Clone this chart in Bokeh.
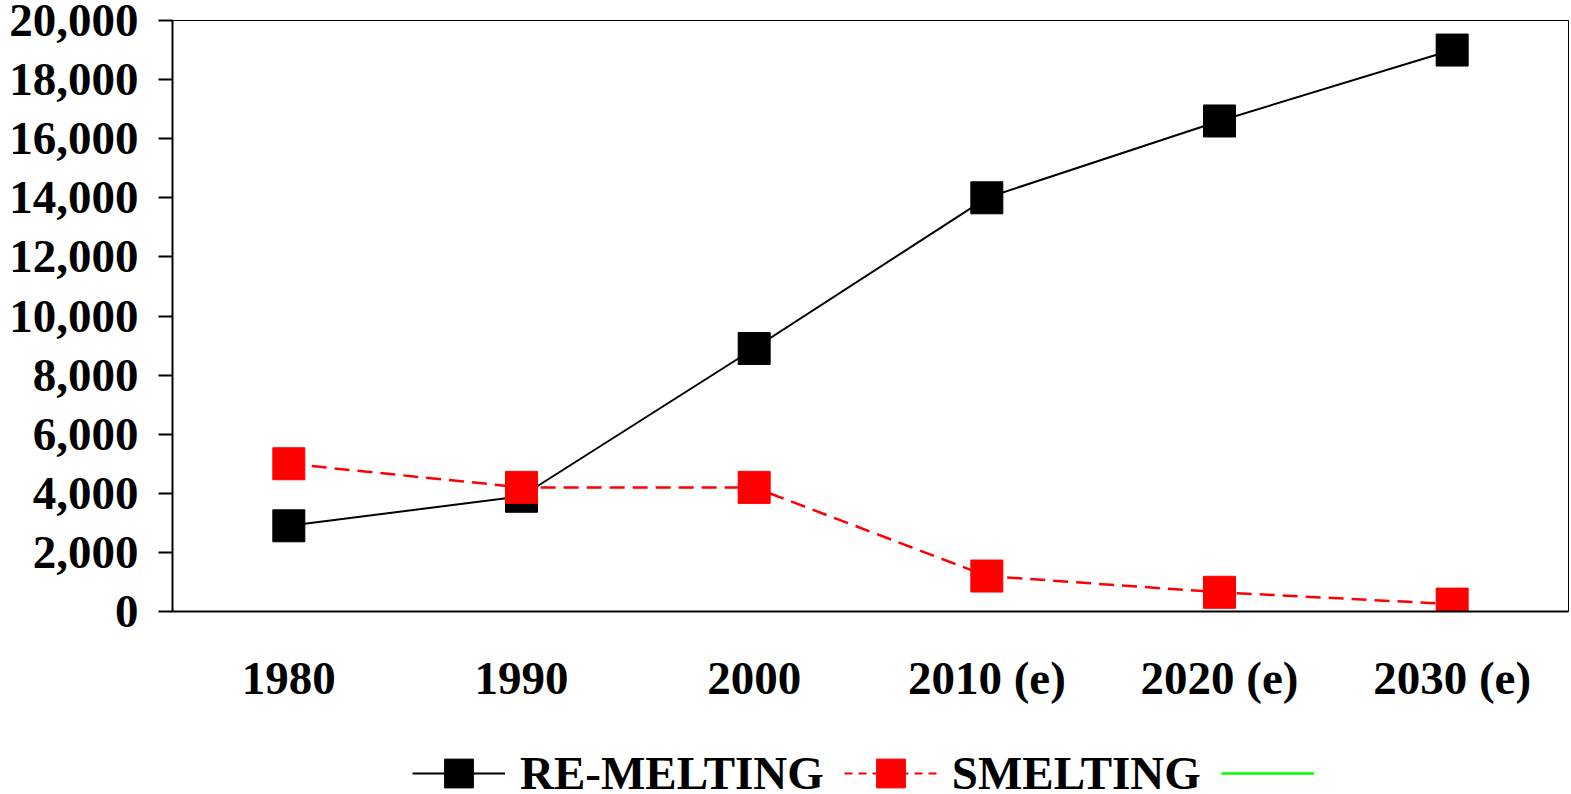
from bokeh.plotting import figure
from bokeh.layouts import column
from bokeh.models import (FactorRange, Range1d, SingleIntervalTicker, NumeralTickFormatter,
                          Legend, LegendItem)
from bokeh.core.properties import value
from bokeh.embed import file_html
from bokeh.resources import INLINE

categories = ["1980", "1990", "2000", "2010 (e)", "2020 (e)", "2030 (e)"]
remelting = [2900, 3900, 8900, 14000, 16600, 19000]
smelting = [5000, 4200, 4200, 1200, 650, 250]
series_names = ["RE-MELTING", "SMELTING", ""]

FONT = "Liberation Serif"
BLACK = "black"
RED = "#ff0000"
GREEN = "#00ff00"

p = figure(width=1571, height=737, output_backend="svg", toolbar_location=None,
           x_range=FactorRange(*categories, range_padding=0),
           y_range=Range1d(0, 20000),
           min_border_left=172, min_border_right=3, min_border_top=20, min_border_bottom=126)

p.background_fill_color = "white"
p.border_fill_color = "white"
p.outline_line_color = "black"
p.outline_line_width = 1
p.xgrid.visible = False
p.ygrid.visible = False

# y axis
ya = p.yaxis[0]
ya.ticker = SingleIntervalTicker(interval=2000)
ya.formatter = NumeralTickFormatter(format="0,0")
ya.axis_line_width = 2
ya.major_tick_line_width = 2
ya.major_tick_out = 14
ya.major_tick_in = 0
ya.minor_tick_out = 0
ya.minor_tick_in = 0
ya.major_label_standoff = 20
ya.major_label_text_font = FONT
ya.major_label_text_font_style = "bold"
ya.major_label_text_font_size = "47px"
ya.major_label_text_color = "black"

# x axis
xa = p.xaxis[0]
xa.axis_line_width = 2
xa.major_tick_out = 0
xa.major_tick_in = 0
xa.minor_tick_out = 0
xa.major_label_standoff = 40
xa.major_label_text_font = FONT
xa.major_label_text_font_style = "bold"
xa.major_label_text_font_size = "47px"
xa.major_label_text_color = "black"

# series
p.line(categories, remelting, line_color=BLACK, line_width=2)
p.scatter(categories, remelting, marker="square", size=32, fill_color=BLACK, line_color=BLACK)
p.line(categories, smelting, line_color=RED, line_width=2.5, line_dash="15 8")
p.scatter(categories, smelting, marker="square", size=32, fill_color=RED, line_color=RED)

# legend strip below the chart (proxy renderers use the same data, kept out of view)
p2 = figure(width=1571, height=57, output_backend="svg", toolbar_location=None,
            x_range=FactorRange(*categories, range_padding=0), y_range=Range1d(-1000, -999),
            x_axis_type=None, y_axis_type=None,
            min_border_left=172, min_border_right=3, min_border_top=0, min_border_bottom=0)
p2.outline_line_color = None
p2.xgrid.visible = False
p2.ygrid.visible = False
p2.background_fill_color = "white"
p2.border_fill_color = "white"

l1 = p2.line(categories, remelting, line_color=BLACK, line_width=2)
m1 = p2.scatter(categories, remelting, marker="square", fill_color=BLACK, line_color=BLACK)
l2 = p2.line(categories, smelting, line_color=RED, line_width=2, line_dash="8 6")
m2 = p2.scatter(categories, smelting, marker="square", fill_color=RED, line_color=RED)
l3 = p2.line(categories, smelting, line_color=GREEN, line_width=2.5)

legend = Legend(items=[
    LegendItem(label=value(series_names[0]), renderers=[l1, m1]),
    LegendItem(label=value(series_names[1]), renderers=[l2, m2]),
    LegendItem(label=value(series_names[2]), renderers=[l3]),
], orientation="horizontal", location=(240, -15))
legend.glyph_width = 93
legend.glyph_height = 72
legend.label_standoff = 15
legend.spacing = 20
legend.padding = 0
legend.margin = 0
legend.border_line_color = None
legend.background_fill_alpha = 0
legend.label_text_font = FONT
legend.label_text_font_style = "bold"
legend.label_text_font_size = "47px"
legend.label_text_color = "black"
p2.add_layout(legend, "center")

layout = column(p, p2, spacing=0)
open("out.html", "w").write(file_html(layout, INLINE))
